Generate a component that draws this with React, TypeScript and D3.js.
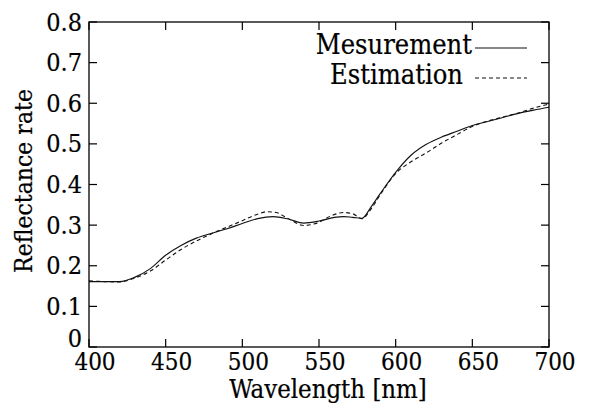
import React from "react";
import * as d3 from "d3";

const measWl = [400, 410, 420, 430, 440, 450, 460, 470, 480, 490, 500, 510, 520, 530, 540, 550, 560, 566, 572, 578, 584, 590, 600, 610, 620, 630, 640, 650, 660, 670, 680, 690, 700];
const measVal = [0.161, 0.161, 0.161, 0.172, 0.193, 0.226, 0.250, 0.268, 0.280, 0.291, 0.304, 0.316, 0.321, 0.315, 0.305, 0.310, 0.319, 0.321, 0.319, 0.317, 0.345, 0.378, 0.430, 0.472, 0.499, 0.517, 0.531, 0.545, 0.555, 0.565, 0.575, 0.583, 0.590];
const estWl = [400, 410, 420, 430, 440, 450, 460, 470, 480, 490, 500, 510, 516, 522, 530, 540, 550, 558, 566, 572, 578, 584, 590, 600, 610, 620, 630, 640, 650, 660, 670, 680, 690, 700];
const estVal = [0.163, 0.161, 0.160, 0.170, 0.187, 0.214, 0.240, 0.261, 0.279, 0.295, 0.311, 0.327, 0.333, 0.331, 0.316, 0.299, 0.307, 0.323, 0.331, 0.328, 0.316, 0.340, 0.375, 0.427, 0.456, 0.478, 0.502, 0.523, 0.543, 0.556, 0.566, 0.576, 0.588, 0.598];
const xTicks = [400, 450, 500, 550, 600, 650, 700];
const yTicks = [0, 0.1, 0.2, 0.3, 0.4, 0.5, 0.6, 0.7, 0.8];
const seriesNames = ["Mesurement", "Estimation"];
const xTitle = "Wavelength [nm]";
const yTitle = "Reflectance rate";

export default function App() {
  const W = 589, H = 408;
  const left = 89, right = 549, top = 22, bottom = 347;
  const x = d3.scaleLinear().domain([400, 700]).range([left, right]);
  const y = d3.scaleLinear().domain([0, 0.8]).range([bottom, top]);
  const font = "'DejaVu Serif Condensed', 'DejaVu Serif', serif";
  const line = d3.line<[number, number]>().x(d => x(d[0])).y(d => y(d[1])).curve(d3.curveMonotoneX);
  const meas = measWl.map((w, i) => [w, measVal[i]] as [number, number]);
  const est = estWl.map((w, i) => [w, estVal[i]] as [number, number]);
  const tl = 8;
  const txt = { fontFamily: font, fontStretch: "condensed", fill: "#000", stroke: "#000", strokeWidth: 0.2 } as const;
  return (
    <svg width={W} height={H} style={{ position: "absolute", left: 0, top: 0, background: "#fff" }}>
      <rect x={0} y={0} width={W} height={H} fill="#fff" />
      <path d={line(meas) || ""} fill="none" stroke="#111" strokeWidth={1.1} />
      <path d={line(est) || ""} fill="none" stroke="#111" strokeWidth={1.1} strokeDasharray="4,3" />
      <rect x={left} y={top} width={right - left} height={bottom - top} fill="none" stroke="#000" strokeWidth={1.3} />
      {xTicks.map(t => (
        <g key={"x" + t}>
          <line x1={x(t)} x2={x(t)} y1={bottom} y2={bottom - tl} stroke="#000" strokeWidth={1.2} />
          <line x1={x(t)} x2={x(t)} y1={top} y2={top + tl} stroke="#000" strokeWidth={1.2} />
          <text x={x(t) + 6} y={370} textAnchor="middle" fontSize={24} {...txt}>{t}</text>
        </g>
      ))}
      {yTicks.map(t => (
        <g key={"y" + t}>
          <line x1={left} x2={left + tl} y1={y(t)} y2={y(t)} stroke="#000" strokeWidth={1.2} />
          <line x1={right} x2={right - tl} y1={y(t)} y2={y(t)} stroke="#000" strokeWidth={1.2} />
          <text x={82} y={t === 0 ? 347 : y(t) + 8.5} textAnchor="end" fontSize={25} {...txt}>{t === 0 ? "0" : t.toFixed(1)}</text>
        </g>
      ))}
      <text x={328} y={398} textAnchor="middle" fontSize={25.5} {...txt}>{xTitle}</text>
      <text transform={`translate(32,181) rotate(-90)`} textAnchor="middle" fontSize={24.5} {...txt}>{yTitle}</text>
      <text x={472} y={54} textAnchor="end" fontSize={27} {...txt}>{seriesNames[0]}</text>
      <line x1={475} x2={527} y1={48} y2={48} stroke="#111" strokeWidth={1.1} />
      <text x={463} y={84} textAnchor="end" fontSize={27} {...txt}>{seriesNames[1]}</text>
      <line x1={475} x2={527} y1={78} y2={78} stroke="#111" strokeWidth={1.1} strokeDasharray="4,3" />
    </svg>
  );
}
